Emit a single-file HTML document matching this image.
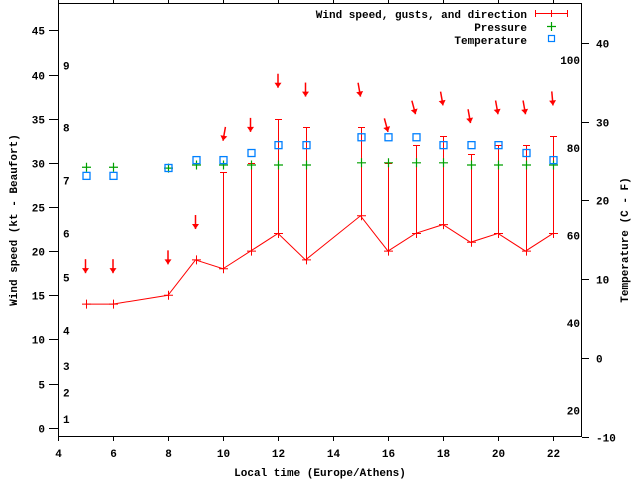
<!DOCTYPE html>
<html><head><meta charset="utf-8"><style>
body{margin:0;background:#fff;}
svg{display:block;font-family:"Liberation Mono",monospace;font-weight:bold;font-size:11px;}
</style></head><body>
<svg id="chart" width="640" height="480" viewBox="0 0 640 480" xmlns="http://www.w3.org/2000/svg">
<rect x="0" y="0" width="640" height="480" fill="#fff"/>
<g id="grid"></g>
<g id="marks"></g>
<rect x="58.5" y="3.5" width="523" height="433" fill="none" stroke="#000" stroke-width="1"/>
<text transform="translate(17,220) rotate(-90)" text-anchor="middle">Wind speed (kt - Beaufort)</text>
<text transform="translate(628,240) rotate(-90)" text-anchor="middle">Temperature (C - F)</text>
<text x="320" y="476" text-anchor="middle">Local time (Europe/Athens)</text>
<g>
<text x="527" y="18" text-anchor="end">Wind speed, gusts, and direction</text>
<line x1="535" y1="13.5" x2="568" y2="13.5" stroke="red"/>
<line x1="535.5" y1="10" x2="535.5" y2="17" stroke="red"/>
<line x1="567.5" y1="10" x2="567.5" y2="17" stroke="red"/>
<line x1="551.5" y1="10" x2="551.5" y2="17" stroke="red"/>
<text x="527" y="31" text-anchor="end">Pressure</text>
<path d="M547 26.5h9M551.5 22v9" stroke="#00a000" stroke-width="1.2"/>
<text x="527" y="44" text-anchor="end">Temperature</text>
<rect x="548.5" y="35.5" width="6" height="6" fill="none" stroke="#0080ff" stroke-width="1.2"/>
</g>
</svg>
<script>
const hours=[5,6,8,9,10,11,12,13,15,16,17,18,19,20,21,22];
const wind=[14,14,15,19,18,20,22,19,24,20,22,23,21,22,20,22];
const gusts=[14,14,15,19,29,30,35,34,34,30,32,33,31,32,32,33];
const direction=[0,0,0,0,10,0,0,0,350,345,345,350,350,350,350,355];
const pressure=[29.5,29.5,29.4,29.75,29.75,29.75,29.75,29.75,30,30,30,30,29.75,29.75,29.75,29.75];
const temperature=[23.1,23.1,24.1,25.1,25.1,26,27,27,28,28,28,27,27,27,26,25.1];
const xTicks=[4,6,8,10,12,14,16,18,20,22];
const yTicks=[0,5,10,15,20,25,30,35,40,45];
const y2Ticks=[-10,0,10,20,30,40];
const fLabels=[20,40,60,80,100];
const bftKt=[1,4,7,11,17,22,28,34,41];
const bftLabels=["1","2","3","4","5","6","7","8","9"];

const NS="http://www.w3.org/2000/svg";
const X=h=>58+(h-4)*27.5;
const Y=v=>427.7-v*8.83;
const Y2=t=>436.7-(t+10)*7.88;
const grid=document.getElementById('grid'), marks=document.getElementById('marks');
function mk(tag,attrs,parent){const e=document.createElementNS(NS,tag);for(const k in attrs)e.setAttribute(k,attrs[k]);parent.appendChild(e);return e;}

xTicks.forEach(t=>{const x=Math.round(X(t))+0.5;
 const l=mk('path',{d:`M${x} 436v5M${x} 3v-4`,stroke:'#000'},grid);
 
 
 const tx=mk('text',{x:x,y:457,'text-anchor':'middle'},grid);tx.textContent=t;
 
 
});
yTicks.forEach(t=>{const y=Math.round(Y(t))+0.5;
 const l=mk('path',{d:`M49 ${y}h9`,stroke:'#000'},grid);
 
 
 const tx=mk('text',{x:45,y:y+4,'text-anchor':'end'},grid);tx.textContent=t;
 
 
});
y2Ticks.forEach(t=>{const y=Math.round(Y2(t))+0.5;
 const l=mk('path',{d:`M582 ${y}h7`,stroke:'#000'},grid);
 
 
 const tx=mk('text',{x:596,y:y+4,'text-anchor':'start'},grid);tx.textContent=t;
 
 
});
fLabels.forEach(f=>{const y=Y2((f-32)*5/9);
 const tx=mk('text',{x:580,y:y+4,'text-anchor':'end'},grid);tx.textContent=f;
 
 
});
bftKt.forEach((k,i)=>{const y=Y(k);
 const tx=mk('text',{x:63,y:y+4,'text-anchor':'start'},grid);tx.textContent=bftLabels[i];
 
 
});

// wind line
const pl=mk('polyline',{points:hours.map((h,i)=>X(h)+','+Y(wind[i])).join(' '),fill:'none',stroke:'red','stroke-width':1},marks);


hours.forEach((h,i)=>{
 const x=Math.round(X(h))+0.5, yw=Y(wind[i]), yg=Math.round(Y(gusts[i]))+0.5;
 if(gusts[i]>wind[i]){
  const b=mk('path',{d:`M${x} ${yw}V${yg}M${x-3.5} ${yg}h7`,stroke:'red','stroke-width':1},marks);
  
  
 }
 const c=mk('path',{d:`M${x-4.5} ${yw}h9M${x} ${yw-4.5}v9`,stroke:'red','stroke-width':1},marks);
 
 
 // direction arrow
 const top=Math.max(gusts[i],wind[i])+3.5, hy=Y(top), r=direction[i]*Math.PI/180, L=14;
 const tx2=X(h)+L*Math.sin(r), ty2=hy-L*Math.cos(r);
 const ux=(X(h)-tx2)/L, uy=(hy-ty2)/L;
 const bx=X(h)-ux*5, by=hy-uy*5;
 const a=mk('g',{},marks);
 
 
 mk('line',{x1:tx2,y1:ty2,x2:X(h),y2:hy,stroke:'red','stroke-width':1.5},a);
 mk('polygon',{points:`${X(h)},${hy} ${bx-uy*3.5},${by+ux*3.5} ${bx+uy*3.5},${by-ux*3.5}`,fill:'red'},a);
 // pressure
 const yp=Y(pressure[i]);
 const p=mk('path',{d:`M${x-4.5} ${yp}h9M${x} ${yp-4.5}v9`,stroke:'#00a000','stroke-width':1.2},marks);
 
 
 const yt=Y2(temperature[i]);
 const s=mk('rect',{x:x-3.5,y:yt-3.5,width:7,height:7,fill:'none',stroke:'#0080ff','stroke-width':1.3},marks);
 
 
});
</script>
</body></html>
